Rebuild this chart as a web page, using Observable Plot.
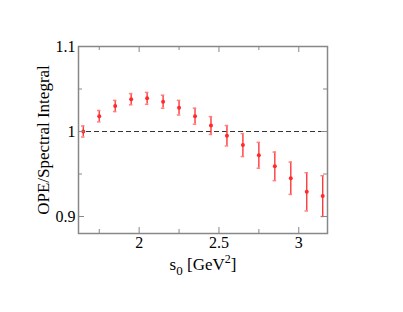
<!DOCTYPE html>
<html><head><meta charset="utf-8">
<script src="https://cdn.jsdelivr.net/npm/d3@7"></script>
<script src="https://cdn.jsdelivr.net/npm/@observablehq/plot@0.6"></script>
<style>body{margin:0;background:#fff} svg text{font-family:"Liberation Serif",serif}</style>
</head><body><div id="chart"></div>
<script>
const s0 = [1.65,1.75,1.85,1.95,2.05,2.15,2.25,2.35,2.45,2.55,2.65,2.75,2.85,2.95,3.05,3.15];
const ratio = [1.000,1.018,1.030,1.038,1.039,1.035,1.028,1.018,1.007,0.995,0.984,0.972,0.959,0.945,0.929,0.924];
const err = [0.0065,0.0067,0.0066,0.0066,0.007,0.0076,0.0086,0.0094,0.0105,0.012,0.0135,0.0152,0.0168,0.019,0.0225,0.024];
const xTicks = [2, 2.5, 3];
const xMinor = [1.75, 2.25, 2.75];
const yTicks = [0.9, 1, 1.1];
const yMinor = [0.95, 1.05];
const yLabel = "OPE/Spectral Integral";
const xLabel = "s0 [GeV2]";

const data = s0.map((s, i) => ({s, r: ratio[i], e: err[i]}));
const W = 403, H = 312, mt = 46, mb = 79, ml = 78, mr = 76;
const ih = H - mt - mb, iw = W - ml - mr;
const capHalf = 0.011;
const gray = "#888";
const ff = "Liberation Serif";

const chart = Plot.plot({
  width: W, height: H,
  marginTop: mt, marginBottom: mb, marginLeft: ml, marginRight: mr,
  x: {domain: [1.62, 3.18], axis: null},
  y: {domain: [0.88, 1.1], axis: null},
  style: {fontFamily: ff, fontSize: "16px", background: "white", color: "black"},
  marks: [
    Plot.ruleY([1], {stroke: "#333", strokeDasharray: "5,3", strokeWidth: 1.2}),
    Plot.ruleX(data, {x: "s", y1: d => d.r - d.e, y2: d => d.r + d.e, stroke: "#ff3838", strokeWidth: 1.4}),
    Plot.ruleY(data, {y: d => d.r - d.e, x1: d => d.s - capHalf, x2: d => d.s + capHalf, stroke: "#ff8080", strokeWidth: 1.5}),
    Plot.ruleY(data, {y: d => d.r + d.e, x1: d => d.s - capHalf, x2: d => d.s + capHalf, stroke: "#ff8080", strokeWidth: 1.5}),
    Plot.dot(data, {x: "s", y: "r", r: 2, fill: "#ff2a2a"}),
    Plot.tickX(xTicks, {x: d => d, insetTop: ih - 6, stroke: gray}),
    Plot.tickX(xTicks, {x: d => d, insetBottom: ih - 6, stroke: gray}),
    Plot.tickX(xMinor, {x: d => d, insetTop: ih - 4, stroke: gray}),
    Plot.tickX(xMinor, {x: d => d, insetBottom: ih - 4, stroke: gray}),
    Plot.tickY(yTicks, {y: d => d, insetRight: iw - 6, stroke: gray}),
    Plot.tickY(yTicks, {y: d => d, insetLeft: iw - 6, stroke: gray}),
    Plot.tickY(yMinor, {y: d => d, insetRight: iw - 4, stroke: gray}),
    Plot.tickY(yMinor, {y: d => d, insetLeft: iw - 4, stroke: gray}),
    Plot.frame({stroke: gray, strokeWidth: 1.5}),
    Plot.axisX(xTicks, {tickSize: 0, tickPadding: 3, tickFormat: d => String(d), fontSize: 16, fontFamily: ff, label: null}),
    Plot.axisY(yTicks, {tickSize: 0, tickPadding: 3, tickFormat: d => String(d), fontSize: 16, fontFamily: ff, label: null}),
    Plot.text([yLabel], {text: d => d, frameAnchor: "left", textAnchor: "middle", dx: -35, rotate: -90, fontSize: 17, fontFamily: ff}),
    Plot.text([xLabel], {text: d => d, frameAnchor: "bottom", textAnchor: "middle", dy: 36, fontSize: 17, fontFamily: ff})
  ]
});
document.getElementById("chart").appendChild(chart);

d3.select(chart).selectAll("text").filter(function() { return this.textContent === xLabel; })
  .each(function() {
    const t = d3.select(this);
    t.text(null);
    t.append("tspan").text("s");
    t.append("tspan").attr("dy", 5).attr("font-size", 13).text("0");
    t.append("tspan").attr("dy", -5).text(" [GeV");
    t.append("tspan").attr("dy", -7).attr("font-size", 12).text("2");
    t.append("tspan").attr("dy", 7).text("]");
  });
</script>
</body></html>
